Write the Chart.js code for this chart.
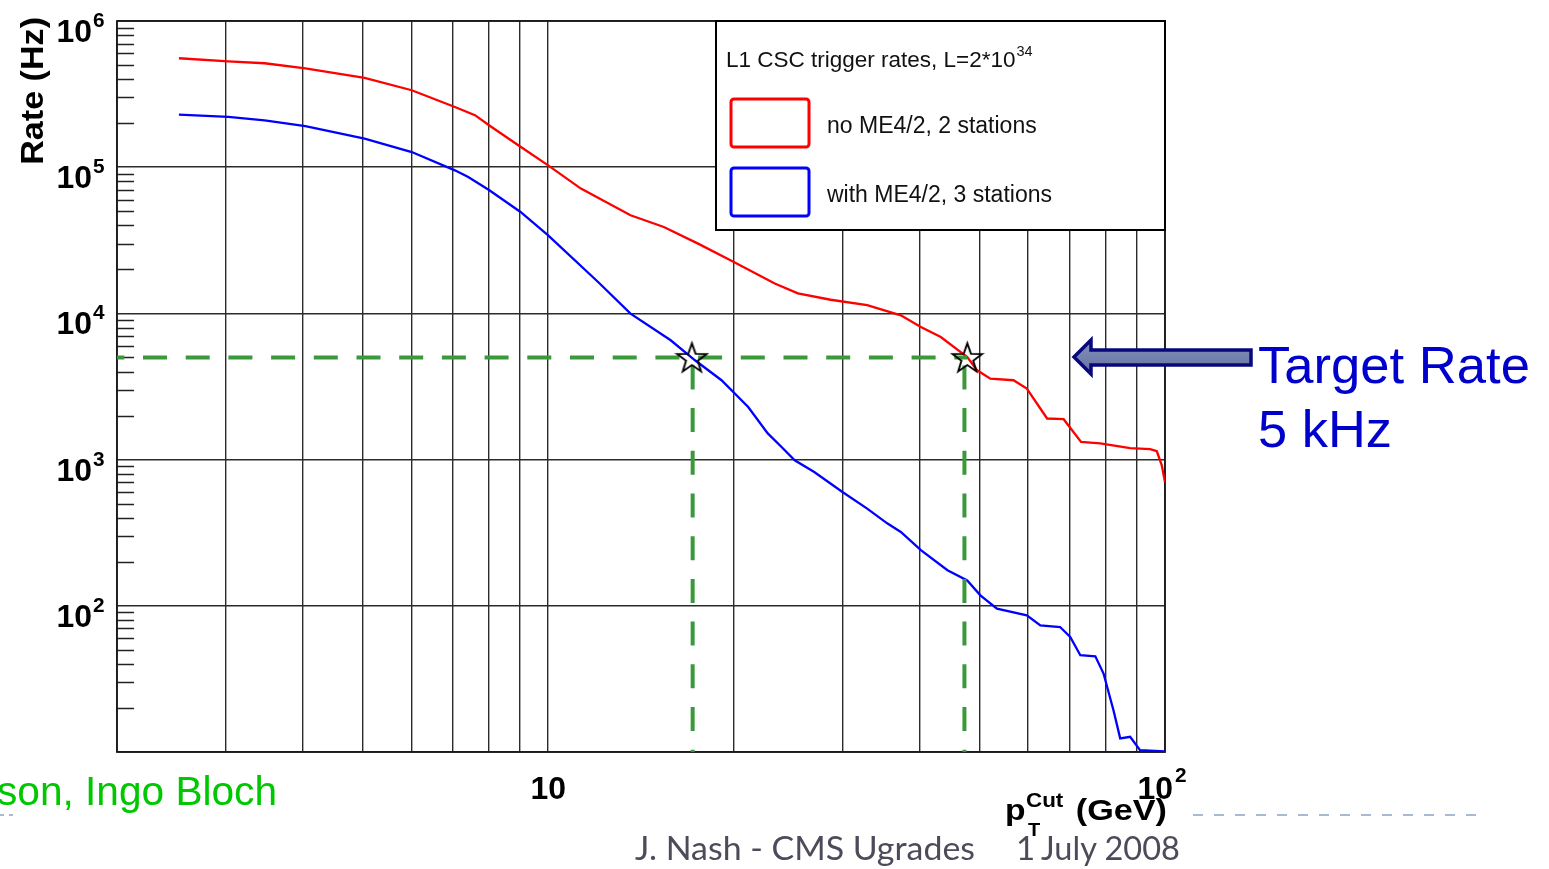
<!DOCTYPE html>
<html>
<head>
<meta charset="utf-8">
<script src="https://cdn.jsdelivr.net/npm/chart.js@4.4.1/dist/chart.umd.min.js"></script>
<style>
  html, body { margin: 0; padding: 0; background: #ffffff; overflow: hidden; }
  #wrap { position: relative; width: 1549px; height: 869px; }
  #c { position: absolute; left: 0; top: 0; }
  #overlay { position: absolute; left: 0; top: 0; pointer-events: none; }
</style>
</head>
<body>
<div id="wrap">
  <canvas id="c" width="1549" height="869"></canvas>
  <svg id="overlay" width="1549" height="869" xmlns="http://www.w3.org/2000/svg">
    <!-- slide divider -->
    <line x1="0" y1="815" x2="15" y2="815" stroke="#a9b9cf" stroke-width="2" stroke-dasharray="4 5"/>
    <line x1="1193" y1="815" x2="1478" y2="815" stroke="#a9b9cf" stroke-width="2" stroke-dasharray="10 11"/>
    <!-- arrow pointing at the target rate -->
    <defs>
      <linearGradient id="shaft" x1="0" y1="0" x2="0" y2="1">
        <stop offset="0" stop-color="#8290bb"/>
        <stop offset="1" stop-color="#65739f"/>
      </linearGradient>
    </defs>
    <polygon points="1074,357 1091,340 1091,350 1251,350 1251,365 1091,365 1091,374"
             fill="url(#shaft)" stroke="#08087c" stroke-width="3.5" stroke-linejoin="miter"/>
    <text x="1258" y="383" font-family="Liberation Sans, Arial, sans-serif" font-size="52" fill="#0000cc"
          textLength="272" lengthAdjust="spacingAndGlyphs">Target Rate</text>
    <text x="1258" y="447" font-family="Liberation Sans, Arial, sans-serif" font-size="52" fill="#0000cc"
          textLength="134" lengthAdjust="spacingAndGlyphs">5 kHz</text>
    <text x="-3" y="805" font-family="Liberation Sans, Arial, sans-serif" font-size="40" fill="#00c800"
          textLength="280" lengthAdjust="spacingAndGlyphs">son, Ingo Bloch</text>
    <text x="635" y="860" font-family="Lato, 'Open Sans', sans-serif" font-size="33" fill="#4b4b5a"
          textLength="340" lengthAdjust="spacingAndGlyphs">J. Nash - CMS Ugrades</text>
    <text x="1016" y="860" font-family="Lato, 'Open Sans', sans-serif" font-size="33" fill="#4b4b5a">1</text>
    <text x="1041" y="860" font-family="Lato, 'Open Sans', sans-serif" font-size="33" fill="#4b4b5a"
          textLength="139" lengthAdjust="spacingAndGlyphs">July 2008</text>
  </svg>
</div>
<script>
// L1 CSC trigger rate versus pT cut, L = 2*10^34
const redPt = [2.52, 3.03, 3.47, 4.04, 5.04, 6.01, 7.06, 7.61, 8.03, 9.02,
               10.0, 11.3, 13.6, 15.4, 17.5, 20.0, 23.3, 25.4, 28.7, 32.9,
               37.3, 40.2, 43.3, 47.8, 49.6, 52.1, 56.8, 59.7, 64.4, 68.5,
               73.1, 78.5, 87.8, 94.6, 97.0, 98.8, 100];
const redRate = [5.56e5, 5.30e5, 5.14e5, 4.75e5, 4.08e5, 3.36e5, 2.58e5, 2.27e5, 1.93e5, 1.38e5,
                 1.03e5, 7.14e4, 4.69e4, 3.90e4, 3.00e4, 2.25e4, 1.60e4, 1.37e4, 1.24e4, 1.14e4,
                 9.70e3, 8.07e3, 6.90e3, 5.03e3, 4.08e3, 3.58e3, 3.49e3, 3.06e3, 1.91e3, 1.89e3,
                 1.32e3, 1.29e3, 1.20e3, 1.18e3, 1.14e3, 914, 699];

const bluePt = [2.52, 3.03, 3.47, 4.04, 5.04, 6.01, 7.06, 7.42, 8.03, 9.02,
                10.0, 12.05, 13.6, 15.8, 17.3, 19.1, 21.1, 22.7, 23.9, 25.1,
                27.0, 30.0, 32.9, 35.5, 37.3, 40.2, 44.4, 47.8, 50.2, 53.4,
                59.7, 62.8, 67.6, 70.2, 72.9, 77.1, 79.5, 82.5, 84.6, 87.8,
                91.1, 100];
const blueRate = [2.29e5, 2.21e5, 2.09e5, 1.91e5, 1.57e5, 1.27e5, 9.52e4, 8.57e4, 6.95e4, 4.94e4,
                  3.42e4, 1.64e4, 9.97e3, 6.55e3, 4.78e3, 3.49e3, 2.29e3, 1.51e3, 1.22e3, 989,
                  823, 600, 462, 365, 320, 240, 175, 149, 118, 95.7,
                  86.1, 73.5, 71.6, 61.2, 45.9, 45.1, 34.4, 19.3, 12.4, 12.7,
                  10.3, 10.1];

const seriesLabels = ['no ME4/2, 2 stations', 'with ME4/2, 3 stations'];
const legendTitle = 'L1 CSC trigger rates, L=2*10';
const legendTitleExp = '34';

const targetRate = 5000;          // 5 kHz
const cutPt = [17.15, 47.3];      // pT thresholds giving the target rate
const starPt = [17.1, 47.8];      // crossing markers

const ptMin = 2, ptMax = 100;
const rateMin = 10, rateMax = 1e6;
const xGridValues = [2, 3, 4, 5, 6, 7, 8, 9, 10, 20, 30, 40, 50, 60, 70, 80, 90, 100];
const yGridValues = [10, 100, 1e3, 1e4, 1e5, 1e6];
const yTickExponents = [2, 3, 4, 5, 6];
const xTickLabels = [{ value: 10, base: '10', exp: '' }, { value: 100, base: '10', exp: '2' }];
const yTitle = 'Rate (Hz)';

const FONT = '"Liberation Sans", Arial, Helvetica, sans-serif';
const GREEN = '#3a9a3a';

function toXY(xs, ys) { return xs.map((x, i) => ({ x: x, y: ys[i] })); }

// hollow five-pointed star marker
function makeStar(R) {
  const size = Math.ceil(2 * R + 4);
  const cv = document.createElement('canvas');
  cv.width = size; cv.height = size;
  const g = cv.getContext('2d');
  const cx = size / 2, cy = size / 2 + R * 0.09, r = R * 0.4;
  g.beginPath();
  for (let i = 0; i < 10; i++) {
    const rad = (i % 2 === 0) ? R : r;
    const a = -Math.PI / 2 + i * Math.PI / 5;
    const px = cx + rad * Math.cos(a), py = cy + rad * Math.sin(a);
    if (i === 0) g.moveTo(px, py); else g.lineTo(px, py);
  }
  g.closePath();
  g.lineWidth = 1.9;
  g.strokeStyle = '#000000';
  g.lineJoin = 'miter';
  g.stroke();
  return cv;
}

function textScaled(ctx, str, x, y, align, sx) {
  ctx.save();
  ctx.translate(x, y);
  ctx.scale(sx, 1);
  ctx.textAlign = align;
  ctx.fillText(str, 0, 0);
  ctx.restore();
}

const frameAndTicks = {
  id: 'frameAndTicks',
  beforeDatasetsDraw(chart) {
    const { ctx, chartArea: a, scales: { y } } = chart;
    ctx.save();
    ctx.strokeStyle = '#222222';
    ctx.lineWidth = 1.5;
    ctx.beginPath();
    for (let d = rateMin; d < rateMax; d *= 10) {
      for (let m = 2; m <= 9; m++) {
        const py = Math.round(y.getPixelForValue(m * d)) + 0.5;
        ctx.moveTo(a.left, py);
        ctx.lineTo(a.left + 17, py);
      }
    }
    ctx.stroke();
    ctx.lineWidth = 1.8;
    ctx.strokeStyle = '#1a1a1a';
    ctx.strokeRect(a.left, a.top, a.right - a.left, a.bottom - a.top);
    ctx.restore();
  }
};

const axisLabels = {
  id: 'axisLabels',
  afterDraw(chart) {
    const { ctx, chartArea: a, scales: { x, y } } = chart;
    ctx.save();
    ctx.fillStyle = '#000000';
    ctx.textBaseline = 'alphabetic';
    // y tick labels 10^n
    yTickExponents.forEach(e => {
      const py = y.getPixelForValue(Math.pow(10, e));
      ctx.font = 'bold 31px ' + FONT;
      textScaled(ctx, '10', 92, py + 21, 'right', 1.03);
      ctx.font = 'bold 20px ' + FONT;
      textScaled(ctx, String(e), 93, py + 6, 'left', 1.04);
    });
    // x tick labels
    xTickLabels.forEach(t => {
      const px = x.getPixelForValue(t.value);
      ctx.font = 'bold 31px ' + FONT;
      const wb = ctx.measureText(t.base).width * 1.03;
      ctx.font = 'bold 20px ' + FONT;
      const we = t.exp ? ctx.measureText(t.exp).width * 1.04 + 2 : 0;
      const x0 = px - (wb + we) / 2 - (t.exp ? 3 : 0);
      ctx.font = 'bold 31px ' + FONT;
      textScaled(ctx, t.base, x0, a.bottom + 47, 'left', 1.03);
      if (t.exp) {
        ctx.font = 'bold 20px ' + FONT;
        textScaled(ctx, t.exp, x0 + wb + 2, a.bottom + 30, 'left', 1.04);
      }
    });
    // x axis title: pT^Cut (GeV)
    ctx.font = 'bold 30px ' + FONT;
    textScaled(ctx, '(GeV)', a.right + 2, 820, 'right', 1.14);
    ctx.font = 'bold 30px ' + FONT;
    textScaled(ctx, 'p', 1005, 820, 'left', 1.12);
    ctx.font = 'bold 20px ' + FONT;
    textScaled(ctx, 'Cut', 1026, 807, 'left', 1.12);
    ctx.font = 'bold 19px ' + FONT;
    textScaled(ctx, 'T', 1028, 836, 'left', 1.05);
    // y axis title
    ctx.save();
    ctx.translate(43, a.top - 4);
    ctx.rotate(-Math.PI / 2);
    ctx.font = 'bold 31px ' + FONT;
    ctx.scale(1.1, 1);
    ctx.textAlign = 'right';
    ctx.fillText(yTitle, 0, 0);
    ctx.restore();
    ctx.restore();
  }
};

const boxLegend = {
  id: 'boxLegend',
  afterDraw(chart) {
    const { ctx, chartArea: a } = chart;
    const w = 449, h = 209;
    const L = a.right - w, T = a.top;
    ctx.save();
    ctx.fillStyle = '#ffffff';
    ctx.fillRect(L, T, w, h);
    ctx.strokeStyle = '#000000';
    ctx.lineWidth = 2;
    ctx.strokeRect(L, T, w, h);
    ctx.fillStyle = '#111111';
    ctx.textBaseline = 'alphabetic';
    ctx.textAlign = 'left';
    ctx.font = '22.5px ' + FONT;
    ctx.fillText(legendTitle, L + 10, T + 46);
    const tw = ctx.measureText(legendTitle).width;
    ctx.font = '14.5px ' + FONT;
    ctx.fillText(legendTitleExp, L + 11 + tw, T + 35);
    [0, 1].forEach((k, i) => {
      const ds = chart.data.datasets[k];
      const by = T + 78 + i * 69;
      ctx.beginPath();
      ctx.roundRect(L + 15, by, 78, 48, 3);
      ctx.lineWidth = 3;
      ctx.strokeStyle = ds.borderColor;
      ctx.stroke();
      ctx.font = '23px ' + FONT;
      ctx.fillStyle = '#111111';
      ctx.fillText(ds.label, L + 111, by + 34);
    });
    ctx.restore();
  }
};

Chart.defaults.font.family = FONT;

const lineStyle = { showLine: true, pointRadius: 0, borderWidth: 2.3, tension: 0, fill: false };

new Chart(document.getElementById('c'), {
  type: 'scatter',
  data: {
    datasets: [
      Object.assign({ label: seriesLabels[0], data: toXY(redPt, redRate), borderColor: '#ff0000', order: 2 }, lineStyle),
      Object.assign({ label: seriesLabels[1], data: toXY(bluePt, blueRate), borderColor: '#0000ff', order: 2 }, lineStyle),
      { label: 'target', data: [{ x: ptMin, y: targetRate }, { x: starPt[1], y: targetRate }],
        showLine: true, pointRadius: 0, borderColor: GREEN, borderWidth: 4,
        borderDash: [24, 18.7], borderDashOffset: 16.7, order: 1 },
      { label: 'cut3', data: [{ x: cutPt[0], y: targetRate }, { x: cutPt[0], y: rateMin }],
        showLine: true, pointRadius: 0, borderColor: GREEN, borderWidth: 4,
        borderDash: [24, 18.7], borderDashOffset: 34.7, order: 1 },
      { label: 'cut2', data: [{ x: cutPt[1], y: targetRate }, { x: cutPt[1], y: rateMin }],
        showLine: true, pointRadius: 0, borderColor: GREEN, borderWidth: 4,
        borderDash: [24, 18.7], borderDashOffset: 34.7, order: 1 },
      { label: 'crossings', data: starPt.map(p => ({ x: p, y: targetRate })),
        showLine: false, pointRadius: 10, pointStyle: makeStar(15.5), order: 0 }
    ]
  },
  options: {
    responsive: false,
    animation: false,
    events: [],
    layout: { padding: { left: 117, top: 21, right: 384, bottom: 117 } },
    plugins: { legend: { display: false }, tooltip: { enabled: false } },
    scales: {
      x: {
        type: 'logarithmic', min: ptMin, max: ptMax,
        afterBuildTicks: s => { s.ticks = xGridValues.map(v => ({ value: v })); },
        ticks: { display: false },
        grid: { color: '#2b2b2b', lineWidth: 1.4, drawTicks: false },
        border: { display: false }
      },
      y: {
        type: 'logarithmic', min: rateMin, max: rateMax,
        afterBuildTicks: s => { s.ticks = yGridValues.map(v => ({ value: v })); },
        ticks: { display: false },
        grid: { color: '#2b2b2b', lineWidth: 1.4, drawTicks: false },
        border: { display: false }
      }
    }
  },
  plugins: [frameAndTicks, axisLabels, boxLegend]
});
</script>
</body>
</html>
